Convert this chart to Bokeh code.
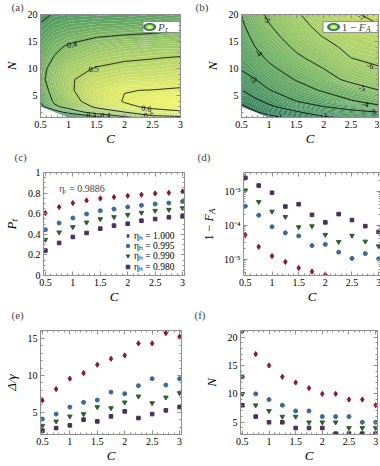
import numpy as np
from bokeh.plotting import figure
from bokeh.layouts import row, column
from bokeh.models import (FixedTicker, CustomJSTickFormatter, LinearAxis, LogAxis,
                          Label, Legend, LegendItem, Range1d, ColumnDataSource)
from bokeh.embed import file_html
from bokeh.resources import INLINE
from bokeh.core.properties import value

nan = float("nan")

# ---------------- data: contour grids ----------------
grid_C = [0.5, 0.75, 1.0, 1.5, 2.0, 2.5, 3.0]
grid_N = [1, 2, 3, 4, 6, 8, 10, 12, 14, 16, 18, 20]

# (a) P_t, one list per C column, values along grid_N
pt_C050 = [nan, nan, 0.27, 0.31, 0.36, 0.38, 0.375, 0.36, 0.345, 0.325, 0.305, 0.285]
pt_C075 = [nan, 0.25, 0.385, 0.415, 0.43, 0.44, 0.43, 0.405, 0.385, 0.36, 0.33, 0.305]
pt_C100 = [0.15, 0.34, 0.43, 0.455, 0.485, 0.49, 0.475, 0.44, 0.41, 0.375, 0.345, 0.31]
pt_C150 = [0.27, 0.45, 0.515, 0.555, 0.56, 0.535, 0.505, 0.475, 0.44, 0.395, 0.355, 0.315]
pt_C200 = [0.38, 0.50, 0.585, 0.605, 0.598, 0.555, 0.52, 0.49, 0.455, 0.405, 0.36, 0.32]
pt_C250 = [0.46, 0.575, 0.615, 0.63, 0.602, 0.56, 0.525, 0.497, 0.465, 0.41, 0.37, 0.33]
pt_C300 = [0.48, 0.59, 0.635, 0.65, 0.61, 0.57, 0.535, 0.505, 0.465, 0.42, 0.38, 0.34]

# (b) log10(1 - F_A), one list per C column
lf_C050 = [nan, nan, -0.85, -1.2, -1.96, -2.6, -3.08, -3.3, -3.5, -3.65, -3.85, -4.02]
lf_C075 = [nan, -0.9, -1.35, -1.8, -2.5, -2.98, -3.35, -3.7, -4.0, -4.25, -4.5, -4.7]
lf_C100 = [-0.6, -1.4, -1.85, -2.2, -2.95, -3.45, -3.8, -4.15, -4.45, -4.7, -4.95, -5.15]
lf_C150 = [-1.4, -1.9, -2.5, -3.0, -3.6, -4.05, -4.45, -4.85, -5.15, -5.45, -5.7, -5.9]
lf_C200 = [-1.85, -2.55, -3.0, -3.35, -4.1, -4.6, -5.0, -5.35, -5.65, -6.05, -6.3, -6.5]
lf_C250 = [-2.15, -2.8, -3.3, -3.95, -4.4, -5.25, -5.6, -6.0, -6.3, -6.5, -6.7, -6.9]
lf_C300 = [-2.5, -3.0, -3.9, -4.2, -4.98, -5.55, -5.93, -6.2, -6.45, -6.7, -6.97, -7.2]

levels_Pt_lines = [0.3, 0.4, 0.5, 0.6]
levels_FA_lines = [-7, -6, -5, -4, -3, -2, -1]

# ---------------- data: scatter panels ----------------
C_vals = [0.5, 0.75, 1.0, 1.25, 1.5, 1.75, 2.0, 2.25, 2.5, 2.75, 3.0]
eta_labels = ["ηₕ = 1.000", "ηₕ = 0.995", "ηₕ = 0.990", "ηₕ = 0.980"]
eta_r_text = "ηᵣ = 0.9886"

Pt_1000 = [0.606, 0.665, 0.703, 0.729, 0.748, 0.761, 0.774, 0.784, 0.797, 0.803, 0.816]
Pt_0995 = [0.445, 0.51, 0.558, 0.597, 0.629, 0.645, 0.665, 0.681, 0.694, 0.703, 0.719]
Pt_0990 = [0.348, 0.419, 0.471, 0.516, 0.548, 0.568, 0.590, 0.610, 0.629, 0.639, 0.655]
Pt_0980 = [0.242, 0.316, 0.374, 0.413, 0.455, 0.484, 0.503, 0.532, 0.548, 0.565, 0.574]

FA_1000 = [5.1e-5, 2.3e-5, 1.23e-5, 8.3e-6, 5.5e-6, 4.3e-6, 3.5e-6, nan, nan, nan, nan]
FA_0995 = [3.6e-4, 1.95e-4, 8.9e-5, 5.9e-5, 4.8e-5, 2.5e-5, 2.7e-5, 1.6e-5, 1.05e-5, 1.45e-5, 1.02e-5]
FA_0990 = [1.05e-3, 4.8e-4, 2.5e-4, 1.75e-4, 8.7e-5, 9.3e-5, 5.2e-5, 3.2e-5, 4.9e-5, 3.3e-5, 2.4e-5]
FA_0980 = [2.45e-3, 1.45e-3, 8.9e-4, 3.5e-4, 4.1e-4, 2.0e-4, 1.2e-4, 2.1e-4, 1.4e-4, 9.3e-5, 6.3e-5]

Dg_1000 = [6.63, 8.16, 9.57, 10.33, 11.46, 12.27, 12.72, 14.35, 14.35, 15.75, 15.26]
Dg_0995 = [4.09, 4.77, 5.72, 6.36, 6.67, 7.75, 7.53, 8.62, 9.57, 8.7, 9.57]
Dg_0990 = [3.2, 3.78, 4.46, 4.77, 5.72, 5.58, 6.36, 7.17, 6.26, 7.03, 7.62]
Dg_0980 = [2.52, 2.87, 3.24, 4.01, 3.78, 4.46, 5.14, 4.23, 4.77, 5.27, 5.72]

Nopt_1000 = [21, 17, 15, 13, 12, 11, 10, 10, 9, 9, 8]
Nopt_0995 = [13, 10, 9, 8, 7, 7, 6, 6, 6, 5, 5]
Nopt_0990 = [10, 8, 7, 6, 6, 5, 5, 5, 4, 4, 4]
Nopt_0980 = [8, 6, 5, 5, 4, 4, 4, 3, 3, 3, 3]

# tick values
C_ticks = [0.5, 1, 1.5, 2, 2.5, 3]
N_ticks = [5, 10, 15, 20]
Pt_ticks = [0, 0.2, 0.4, 0.6, 0.8, 1]
FA_ticks = [1e-3, 1e-4, 1e-5]
Dg_ticks = [5, 10, 15]
Nopt_ticks = [5, 10, 15, 20]

# ---------------- style ----------------
FONT = "Liberation Serif"
AX = "#8f8f8f"
SER_COL = ["#8b1a2b", "#3a6a95", "#2f5e30", "#4b2d5e"]
SER_MARK = ["diamond", "circle", "inverted_triangle", "square"]
SER_SIZE = [5.2, 4.0, 4.6, 3.6]
STOPS_A = [(0.10, "#1e6a50"), (0.25, "#3b885b"), (0.32, "#56a062"), (0.40, "#83ba67"),
           (0.50, "#b6d46a"), (0.58, "#dce96c"), (0.66, "#f3f56f")]
STOPS_B = [(-0.5, "#1e6a50"), (-2, "#3a885a"), (-3, "#519b60"), (-4, "#6bad64"),
           (-5, "#8ac067"), (-6, "#a8cf6a"), (-7, "#c3dc6c"), (-8.5, "#dbe76e")]

PLAIN = "return tick.toString();"
LOGFMT = """
const e = Math.round(Math.log10(tick));
const sup = {"-":"\u207b","0":"\u2070","1":"\u00b9","2":"\u00b2","3":"\u00b3","4":"\u2074",
             "5":"\u2075","6":"\u2076","7":"\u2077","8":"\u2078","9":"\u2079"};
return "10" + String(e).split("").map(c => sup[c]).join("");
"""


def band_palette(levels, stops):
    st = sorted(stops)
    vals = [s[0] for s in st]
    rgb = [tuple(int(s[1][i:i + 2], 16) for i in (1, 3, 5)) for s in st]
    out = []
    for k in range(len(levels) - 1):
        v = 0.5 * (levels[k] + levels[k + 1])
        c = [int(round(np.interp(v, vals, [q[j] for q in rgb]))) for j in range(3)]
        out.append("#%02x%02x%02x" % tuple(c))
    return out


def style_axis(ax, labels=True):
    ax.axis_line_color = AX
    ax.axis_line_width = 1
    ax.major_tick_line_color = AX
    ax.minor_tick_line_color = AX
    ax.major_tick_in = 4
    ax.major_tick_out = 0
    ax.minor_tick_in = 2
    ax.minor_tick_out = 0
    ax.major_label_text_font = FONT
    ax.major_label_text_color = "black"
    ax.major_label_text_font_size = "10px" if labels else "0px"
    ax.major_label_standoff = 3 if labels else 0
    ax.axis_label_text_font = FONT
    ax.axis_label_text_font_style = "italic"
    ax.axis_label_text_font_size = "13px"
    ax.axis_label_text_color = "black"


def set_title(p, text, toff, tstand):
    p.title.text = text
    p.title.align = "left"
    p.title.vertical_align = "top"
    p.title.offset = toff
    p.title.standoff = tstand
    p.title.text_font = FONT
    p.title.text_font_style = "normal"
    p.title.text_font_size = "11px"


def top_pad(ax, pad):
    # an invisible axis label on the mirrored top axis lifts the panel letter
    if pad:
        ax.axis_label = "\u00a0"
        ax.axis_label_text_font_size = "%dpx" % pad
        ax.axis_label_standoff = 0


def make_fig(title, toff, tstand, xr, yr, mbl, mbr, mbt, mbb, fw, fh, xminor, yticks, yminor,
             ylog=False, ylabel=None, yfmt=PLAIN, pad=0):
    p = figure(x_range=xr, y_range=yr, frame_width=fw, frame_height=fh,
               min_border_left=mbl, min_border_right=mbr,
               min_border_top=mbt, min_border_bottom=mbb,
               y_axis_type="log" if ylog else "linear",
               output_backend="svg", toolbar_location=None,
               background_fill_color="white", border_fill_color="white")
    if title:
        set_title(p, title, toff, tstand)
    p.xgrid.visible = False
    p.ygrid.visible = False
    p.outline_line_color = None
    xt = FixedTicker(ticks=C_ticks, minor_ticks=xminor)
    yt = FixedTicker(ticks=yticks, minor_ticks=yminor)
    xa = p.xaxis[0]
    ya = p.yaxis[0]
    xa.ticker = xt
    ya.ticker = yt
    xa.formatter = CustomJSTickFormatter(code=PLAIN)
    ya.formatter = CustomJSTickFormatter(code=yfmt)
    style_axis(xa)
    style_axis(ya)
    xa.axis_label = "C"
    xa.axis_label_standoff = 0
    ya.axis_label_standoff = 6
    if ylabel:
        ya.axis_label = ylabel
    top = LinearAxis(ticker=xt, formatter=CustomJSTickFormatter(code="return '';"))
    right = (LogAxis if ylog else LinearAxis)(ticker=yt,
                                              formatter=CustomJSTickFormatter(code="return '';"))
    style_axis(top, False)
    style_axis(right, False)
    top_pad(top, pad)
    p.add_layout(top, "above")
    p.add_layout(right, "right")
    return p


def colormap_key(p, cx, cy):
    for (w, h, c) in [(13, 8, "#1f6f55"), (10, 6, "#5aa063"), (7, 4, "#c5e06a"), (4, 2.4, "#f4f66e")]:
        p.ellipse(x=[cx], y=[cy], width=w, height=h, width_units="screen", height_units="screen",
                  fill_color=c, line_color=None)


xminor = [round(v, 2) for v in np.arange(0.5, 3.001, 0.1)]
Nminor = list(range(1, 21))

# ---------------- (a) ----------------
Zp = np.array([pt_C050, pt_C075, pt_C100, pt_C150, pt_C200, pt_C250, pt_C300]).T
pa = make_fig("(a)", -29, 0, Range1d(0.5, 3), Range1d(1, 20), 29, 13, 12, 26, 140, 103,
              xminor, N_ticks, Nminor, ylabel="N")
lev_a = [round(v, 3) for v in np.arange(0.10, 0.7001, 0.01)]
pa.contour(x=grid_C, y=grid_N, z=Zp, levels=lev_a,
           fill_color=band_palette(lev_a, STOPS_A), line_color=None)
pa.contour(x=grid_C, y=grid_N, z=Zp, levels=levels_Pt_lines,
           fill_color=None, line_color="black", line_width=0.8)
cl_a = dict(x=[1.06, 1.45, 2.39, 2.43, 1.41, 1.66], y=[14.5, 10.0, 2.7, 1.45, 1.45, 1.45],
            t=["0.4", "0.5", "0.6", "0.5", "0.3", "0.4"], a=[0.2, 0.12, -0.15, -0.03, -0.03, -0.03])
pa.text(x="x", y="y", text="t", angle="a", source=ColumnDataSource(cl_a),
        text_font=value(FONT), text_font_size="8px", text_align="center",
        text_baseline="middle", text_color="black")
pa.rect(x=[2.66], y=[17.7], width=37, height=11, width_units="screen", height_units="screen",
        fill_color="white", line_color="#7a7a7a", line_width=0.8)
colormap_key(pa, 2.45, 17.7)
pa.add_layout(Label(x=2.6, y=17.7, text="Pₜ", text_font=FONT, text_font_style="italic",
                    text_font_size="11px", text_baseline="middle"))

# ---------------- (b) ----------------
Zf = np.array([lf_C050, lf_C075, lf_C100, lf_C150, lf_C200, lf_C250, lf_C300]).T
pb = make_fig("(b)", -46, 0, Range1d(0.5, 3), Range1d(1, 20), 48, 1, 12, 26, 137, 103,
              xminor, N_ticks, Nminor, ylabel="N")
lev_b = [round(v, 2) for v in np.arange(-8.6, -0.1999, 0.1)]
pb.contour(x=grid_C, y=grid_N, z=Zf, levels=lev_b,
           fill_color=band_palette(lev_b, STOPS_B), line_color=None)
pb.contour(x=grid_C, y=grid_N, z=Zf, levels=levels_FA_lines,
           fill_color=None, line_color="black", line_width=0.8)
cl_b = dict(x=[0.97, 0.82, 0.72, 1.18, 2.0, 2.88, 2.76, 2.7, 2.85, 2.69],
            y=[19.1, 13.0, 8.1, 1.3, 1.45, 2.2, 3.5, 6.5, 10.6, 19.6],
            t=["-5", "-4", "-3", "-1", "-2", "-3", "-4", "-5", "-6", "-7"],
            a=[-1.0, -0.85, -0.7, -0.35, -0.15, -0.12, -0.17, -0.25, -0.25, -0.5])
pb.text(x="x", y="y", text="t", angle="a", source=ColumnDataSource(cl_b),
        text_font=value(FONT), text_font_size="8px", text_align="center",
        text_baseline="middle", text_color="black")
pb.rect(x=[2.49], y=[17.7], width=55, height=11, width_units="screen", height_units="screen",
        fill_color="white", line_color="#7a7a7a", line_width=0.8)
colormap_key(pb, 2.18, 17.7)
pb.add_layout(Label(x=2.33, y=17.7, text="1 −", text_font=FONT, text_font_size="11px",
                    text_baseline="middle"))
pb.add_layout(Label(x=2.33, y=17.7, x_offset=17, text="F", text_font=FONT,
                    text_font_style="italic", text_font_size="11px", text_baseline="middle"))
pb.add_layout(Label(x=2.33, y=17.7, x_offset=24, y_offset=-3, text="A", text_font=FONT,
                    text_font_style="italic", text_font_size="8px", text_baseline="middle"))

# ---------------- scatter panels ----------------
xr_s = (0.465, 3.035)


def add_series(p, series):
    rs = []
    for vals, col, mk, sz in zip(series, SER_COL, SER_MARK, SER_SIZE):
        rs.append(p.scatter(C_vals, vals, marker=mk, size=sz, fill_color=col, line_color=col))
    return rs


# (c)
pc = make_fig("(c)", -29, 0, Range1d(*xr_s), Range1d(0, 1), 30, 11, 24, 27, 141, 103,
              xminor, Pt_ticks, [round(v, 2) for v in np.arange(0, 1.001, 0.05)], ylabel="Pₜ",
              pad=5)
rc = add_series(pc, [Pt_1000, Pt_0995, Pt_0990, Pt_0980])
# one single-entry legend per series, stacked 10 px apart at the lower right of the frame
for k, (lab, r) in enumerate(zip(eta_labels, rc)):
    lg = Legend(items=[LegendItem(label=lab, renderers=[r])], location=(80, 33 - 10.2 * k))
    lg.border_line_color = None
    lg.background_fill_alpha = 0
    lg.label_text_font = FONT
    lg.label_text_font_size = "9.5px"
    lg.label_text_color = "black"
    lg.glyph_width = 9
    lg.glyph_height = 9
    lg.label_height = 9
    lg.label_standoff = 2
    lg.padding = 0
    lg.margin = 0
    pc.add_layout(lg)
pc.add_layout(Label(x=0.75, y=0.845, text=eta_r_text, text_font=FONT, text_font_size="10px",
                    text_baseline="middle"))

# (d): a narrow strip carries the panel letter and the y-axis label 1 − F_A
strip = figure(x_range=Range1d(0, 22), y_range=Range1d(0, 103), frame_width=22, frame_height=103,
               min_border_left=0, min_border_right=0, min_border_top=24, min_border_bottom=27,
               y_axis_location=None, output_backend="svg",
               toolbar_location=None, background_fill_color="white", border_fill_color="white")
strip.grid.visible = False
strip.outline_line_color = None
strip.xaxis.visible = False
stop = LinearAxis(ticker=FixedTicker(ticks=[]), formatter=CustomJSTickFormatter(code="return '';"))
style_axis(stop, False)
stop.axis_line_color = None
top_pad(stop, 5)
strip.add_layout(stop, "above")
set_title(strip, "(d)", 2, 0)
for txt, sx, sy, st, fs in [("1 − ", 13, 35, "normal", "12px"), ("F", 13, 54, "italic", "12px"),
                            ("A", 16, 61.5, "italic", "9px")]:
    strip.text(x=[sx], y=[sy], text=[txt], angle=np.pi / 2, text_font=value(FONT),
               text_font_style=st, text_font_size=fs, text_align="left",
               text_baseline="alphabetic", text_color="black")

fa_minor = [m * 10.0 ** e for e in (-6, -5, -4, -3) for m in range(1, 10)]
pd_ = make_fig(None, 0, 0, Range1d(*xr_s), Range1d(3.3e-6, 3.5e-3), 26, 1, 24, 27, 137, 103,
               xminor, FA_ticks, fa_minor, ylog=True, yfmt=LOGFMT)
add_series(pd_, [FA_1000, FA_0995, FA_0990, FA_0980])

# (e)
pe = make_fig("(e)", -29, 0, Range1d(*xr_s), Range1d(2, 16.1), 30, 11, 24, 23, 141, 104,
              xminor, Dg_ticks, list(range(2, 17)), ylabel="Δ/γ", pad=5)
add_series(pe, [Dg_1000, Dg_0995, Dg_0990, Dg_0980])

# (f)
pf = make_fig("(f)", -46, 0, Range1d(*xr_s), Range1d(2.85, 21.15), 48, 1, 24, 23, 137, 104,
              xminor, Nopt_ticks, list(range(3, 22)), ylabel="N", pad=5)
add_series(pf, [Nopt_1000, Nopt_0995, Nopt_0990, Nopt_0980])

layout = column(row(pa, pb), row(pc, strip, pd_), row(pe, pf))
open("out.html", "w", encoding="utf-8").write(file_html(layout, INLINE))
